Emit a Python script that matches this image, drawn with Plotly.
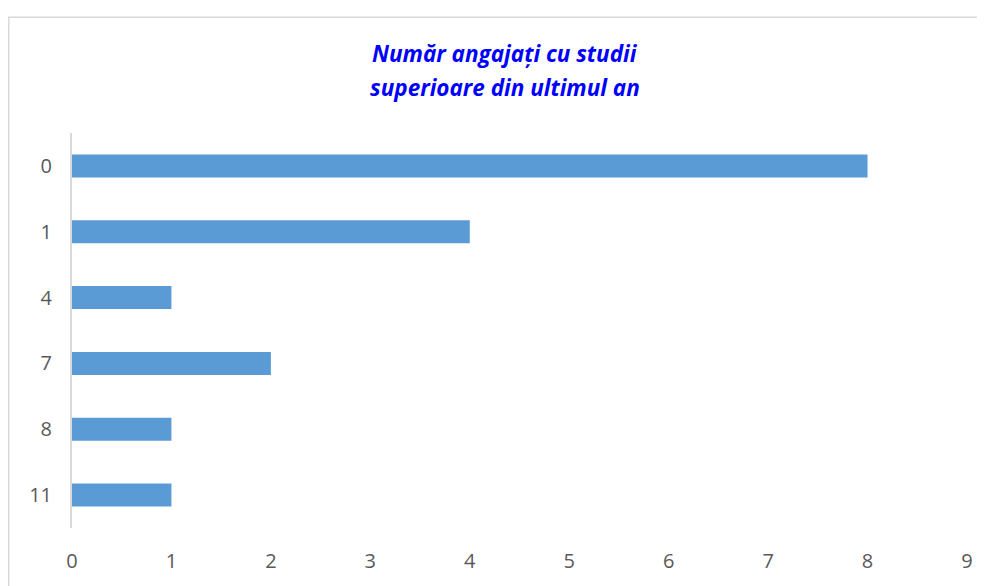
import plotly.graph_objects as go

categories = ["0", "1", "4", "7", "8", "11"]
values = [8, 4, 1, 2, 1, 1]
x_ticks = list(range(0, 10))
title_lines = ["Număr angajați cu studii", "superioare din ultimul an"]

OFF = 8  # page body margin
W, H = 985 - OFF, 586 - OFF
ml, mr, mt, mb = 72 - OFF, 18, 133 - OFF, 49
pw, ph = W - ml - mr, H - mt - mb

def px_x(p):
    return (p - OFF - ml) / pw

def px_y(p):
    return 1 - (p - OFF - mt) / ph

fig = go.Figure(go.Bar(
    x=values, y=categories, orientation="h",
    marker=dict(color="#5B9BD5", line=dict(width=0)),
    width=0.35,
))

title_font = dict(family="Open Sans, Liberation Sans, sans-serif", size=22.5, color="#0000FF")
annotations = []
for line, yc in zip(title_lines, [52, 86]):
    annotations.append(dict(
        text=f"<b><i>{line}</i></b>", xref="paper", yref="paper",
        x=px_x(505), y=px_y(yc), xanchor="center", yanchor="middle",
        showarrow=False, font=title_font,
    ))

fig.update_layout(
    width=W, height=H,
    margin=dict(l=ml, r=mr, t=mt, b=mb),
    paper_bgcolor="white", plot_bgcolor="white",
    showlegend=False,
    annotations=annotations,
    font=dict(family="Open Sans, Liberation Sans, Arial, sans-serif", size=20, color="#595959"),
    xaxis=dict(
        range=[0, 9], tickvals=x_ticks, showgrid=False, zeroline=False,
        showline=False, ticks="", ticklabelstandoff=19,
        tickfont=dict(size=20, color="#595959"),
    ),
    yaxis=dict(
        categoryorder="array", categoryarray=categories[::-1],
        autorange=False, range=[-0.5, 5.5],
        showgrid=False, zeroline=False, showline=True,
        linecolor="#D9D9D9", linewidth=2, ticks="", ticklabelstandoff=14,
        tickfont=dict(size=20, color="#595959"),
    ),
    shapes=[
        dict(type="line", xref="paper", yref="paper",
             x0=px_x(8), x1=px_x(990), y0=px_y(14.5), y1=px_y(14.5),
             line=dict(color="#D9D9D9", width=1.5)),
        dict(type="line", xref="paper", yref="paper",
             x0=px_x(8.75), x1=px_x(8.75), y0=px_y(14), y1=px_y(600),
             line=dict(color="#D9D9D9", width=1.5)),
    ],
)

fig.write_html("out.html")
